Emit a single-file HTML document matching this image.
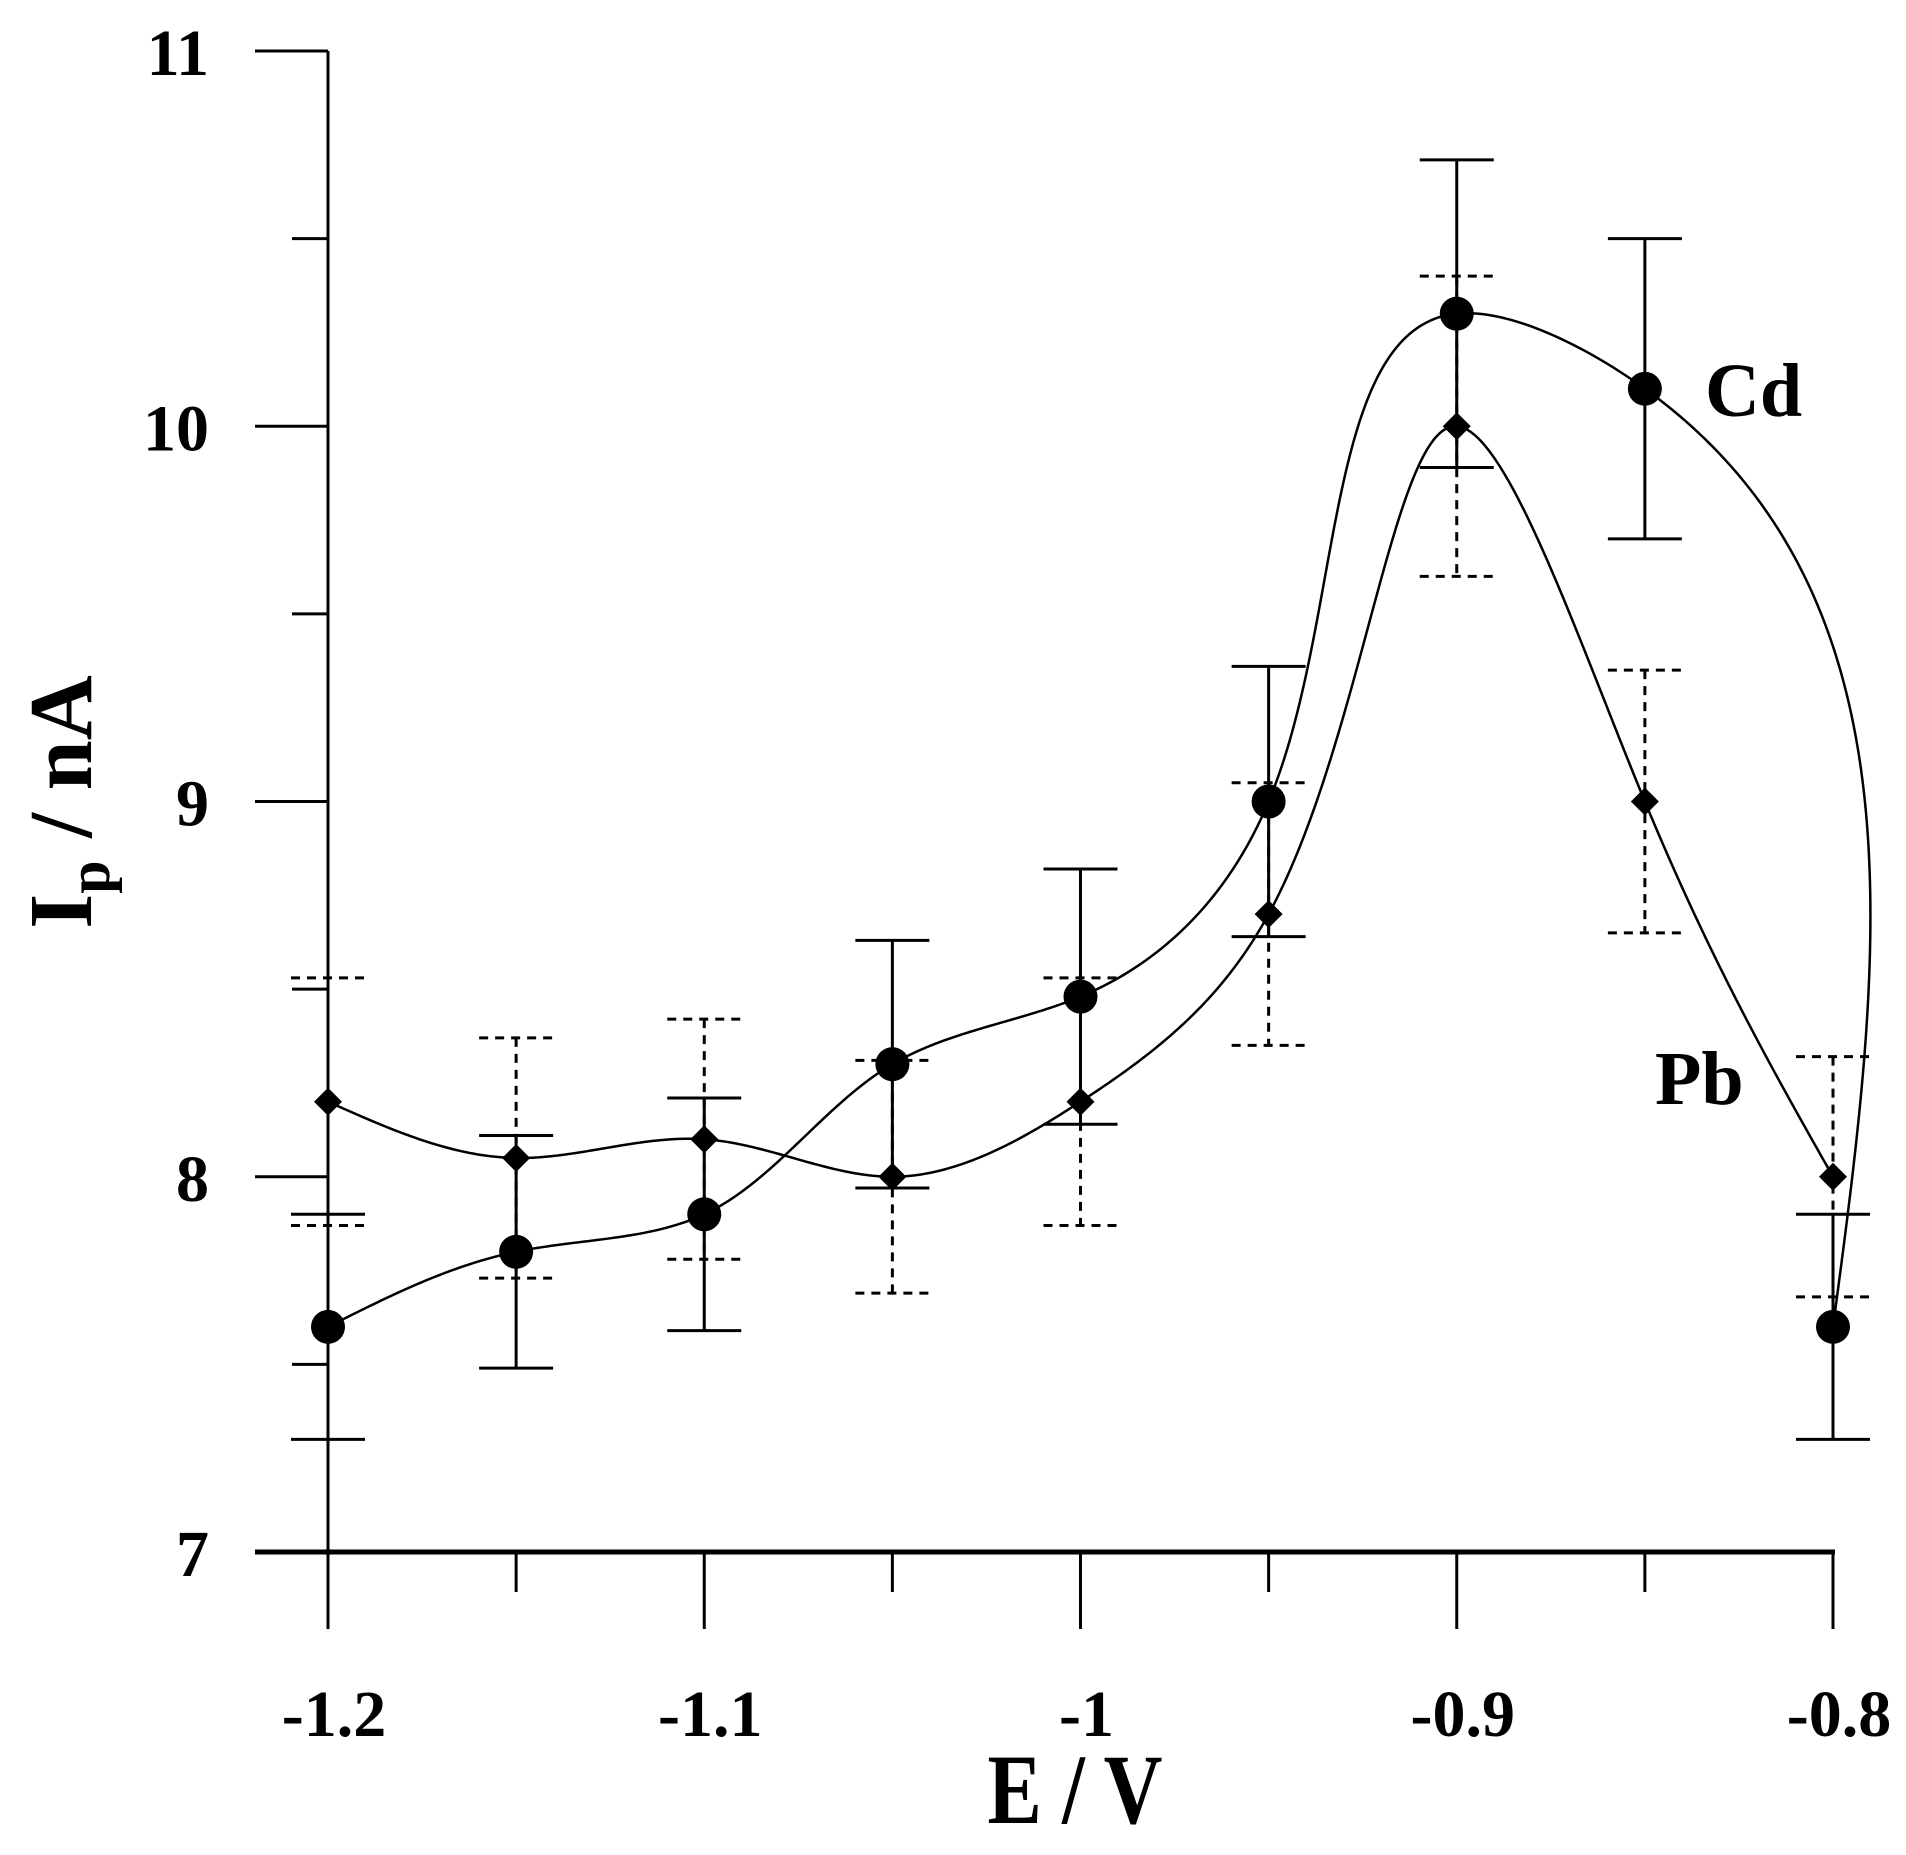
<!DOCTYPE html>
<html><head><meta charset="utf-8"><style>
html,body{margin:0;padding:0;background:#fff;}
svg{display:block;font-family:"Liberation Serif",serif;font-weight:bold;}
</style></head><body>
<svg id="chart" width="1906" height="1855" viewBox="0 0 1906 1855" xmlns="http://www.w3.org/2000/svg">
<g id="axes"></g>
<g id="series"></g>
<text x="1075" y="1823" font-size="100" text-anchor="middle" textLength="175" lengthAdjust="spacingAndGlyphs">E / V</text>
<text transform="translate(91,802) rotate(-90)" font-size="90" text-anchor="middle">I<tspan font-size="60" dy="18">p</tspan><tspan dy="-18"> / nA</tspan></text>
<text x="1705" y="416" font-size="76">Cd</text>
<text x="1655" y="1104" font-size="76">Pb</text>
</svg>
<script>
const xValues = [-1.2,-1.15,-1.1,-1.05,-1.0,-0.95,-0.9,-0.85,-0.8];
const cdValues = [7.6,7.8,7.9,8.3,8.48,9.0,10.3,10.1,7.6];
const cdErrors = [0.3,0.31,0.31,0.33,0.34,0.36,0.41,0.4,0.3];
const pbValues = [8.2,8.05,8.1,8.0,8.2,8.7,10.0,9.0,8.0];
const pbErrors = [0.33,0.32,0.32,0.31,0.33,0.35,0.4,0.35,0.32];
const xTickLabels = ["-1.2","-1.1","-1","-0.9","-0.8"];
const xTickValues = [-1.2,-1.1,-1.0,-0.9,-0.8];
const yTickValues = [7,8,9,10,11];
const yTickLabels = ["7","8","9","10","11"];

const NS="http://www.w3.org/2000/svg";
const X=v=>328+(v+1.2)/0.4*1505;
const Y=v=>1552-(v-7)*375.25;
const axes=document.getElementById('axes'), series=document.getElementById('series');
function mk(tag,attrs,parent){const e=document.createElementNS(NS,tag);for(const k in attrs)e.setAttribute(k,attrs[k]);parent.appendChild(e);return e;}

let e;
e=mk('line',{x1:328,y1:51,x2:328,y2:1629,stroke:'#000','stroke-width':3},axes);


e=mk('line',{x1:255,y1:1552,x2:1835,y2:1552,stroke:'#000','stroke-width':5},axes);


for(let v=7;v<=11.001;v+=0.5){
  const major=Math.abs(v-Math.round(v))<0.01;
  e=mk('line',{x1:major?255:292,y1:Y(v),x2:328,y2:Y(v),stroke:'#000','stroke-width':3},axes);
  
  
}
yTickValues.forEach((v,i)=>{
  e=mk('text',{x:209,y:Y(v)+24,'font-size':66,'text-anchor':'end'},axes);
  e.textContent=yTickLabels[i];
  
  
});
xValues.forEach((v,i)=>{
  e=mk('line',{x1:X(v),y1:1552,x2:X(v),y2:i%2===0?1629:1592,stroke:'#000','stroke-width':3},axes);
  
  
});
xTickValues.forEach((v,i)=>{
  e=mk('text',{x:X(v)+6,y:1736,'font-size':66,'text-anchor':'middle'},axes);
  e.textContent=xTickLabels[i];
  
  
});

function natural(t,v){
  const n=t.length-1,h=[],a=[],l=[1],mu=[0],z=[0],c=new Array(n+1).fill(0),b=[],d=[];
  for(let i=0;i<n;i++)h.push(t[i+1]-t[i]);
  for(let i=1;i<n;i++)a[i]=3/h[i]*(v[i+1]-v[i])-3/h[i-1]*(v[i]-v[i-1]);
  for(let i=1;i<n;i++){l[i]=2*(t[i+1]-t[i-1])-h[i-1]*mu[i-1];mu[i]=h[i]/l[i];z[i]=(a[i]-h[i-1]*z[i-1])/l[i];}
  for(let j=n-1;j>=0;j--){if(j>0)c[j]=z[j]-mu[j]*c[j+1];b[j]=(v[j+1]-v[j])/h[j]-h[j]*(c[j+1]+2*c[j])/3;d[j]=(c[j+1]-c[j])/(3*h[j]);}
  return (s)=>{let j=0;while(j<n-1&&s>t[j+1])j++;const dt=s-t[j];return v[j]+b[j]*dt+c[j]*dt*dt+d[j]*dt*dt*dt;};
}
function spline(pts){
  const t=[0];
  for(let i=1;i<pts.length;i++)t.push(t[i-1]+Math.hypot(pts[i][0]-pts[i-1][0],pts[i][1]-pts[i-1][1]));
  const fx=natural(t,pts.map(p=>p[0])),fy=natural(t,pts.map(p=>p[1]));
  let d=`M${pts[0][0]},${pts[0][1]}`;
  const N=600;
  for(let k=1;k<=N;k++){const s=t[t.length-1]*k/N;d+=` L${fx(s).toFixed(2)},${fy(s).toFixed(2)}`;}
  return d;
}
function drawSeries(vals,errs,name,dash,marker){
  const pts=xValues.map((x,i)=>[X(x),Y(vals[i])]);
  e=mk('path',{d:spline(pts),fill:'none',stroke:'#000','stroke-width':2.5},series);
  
  
  xValues.forEach((x,i)=>{
    const cx=X(x),hi=Y(vals[i]+errs[i]),lo=Y(vals[i]-errs[i]);
    const g=mk('g',{stroke:'#000','stroke-width':3,'stroke-dasharray':dash},series);
    
    
    mk('line',{x1:cx,y1:hi,x2:cx,y2:lo},g);
    mk('line',{x1:cx-37,y1:hi,x2:cx+37,y2:hi},g);
    mk('line',{x1:cx-37,y1:lo,x2:cx+37,y2:lo},g);
  });
  xValues.forEach((x,i)=>{
    const cx=X(x),cy=Y(vals[i]);
    if(marker==='circle') e=mk('circle',{cx:cx,cy:cy,r:17,fill:'#000'},series);
    else e=mk('path',{d:`M${cx},${cy-14} L${cx+14},${cy} L${cx},${cy+14} L${cx-14},${cy} Z`,fill:'#000'},series);
    
    
  });
}
drawSeries(pbValues,pbErrors,'pb','9,7','diamond');
drawSeries(cdValues,cdErrors,'cd','none','circle');
</script>
</body></html>
